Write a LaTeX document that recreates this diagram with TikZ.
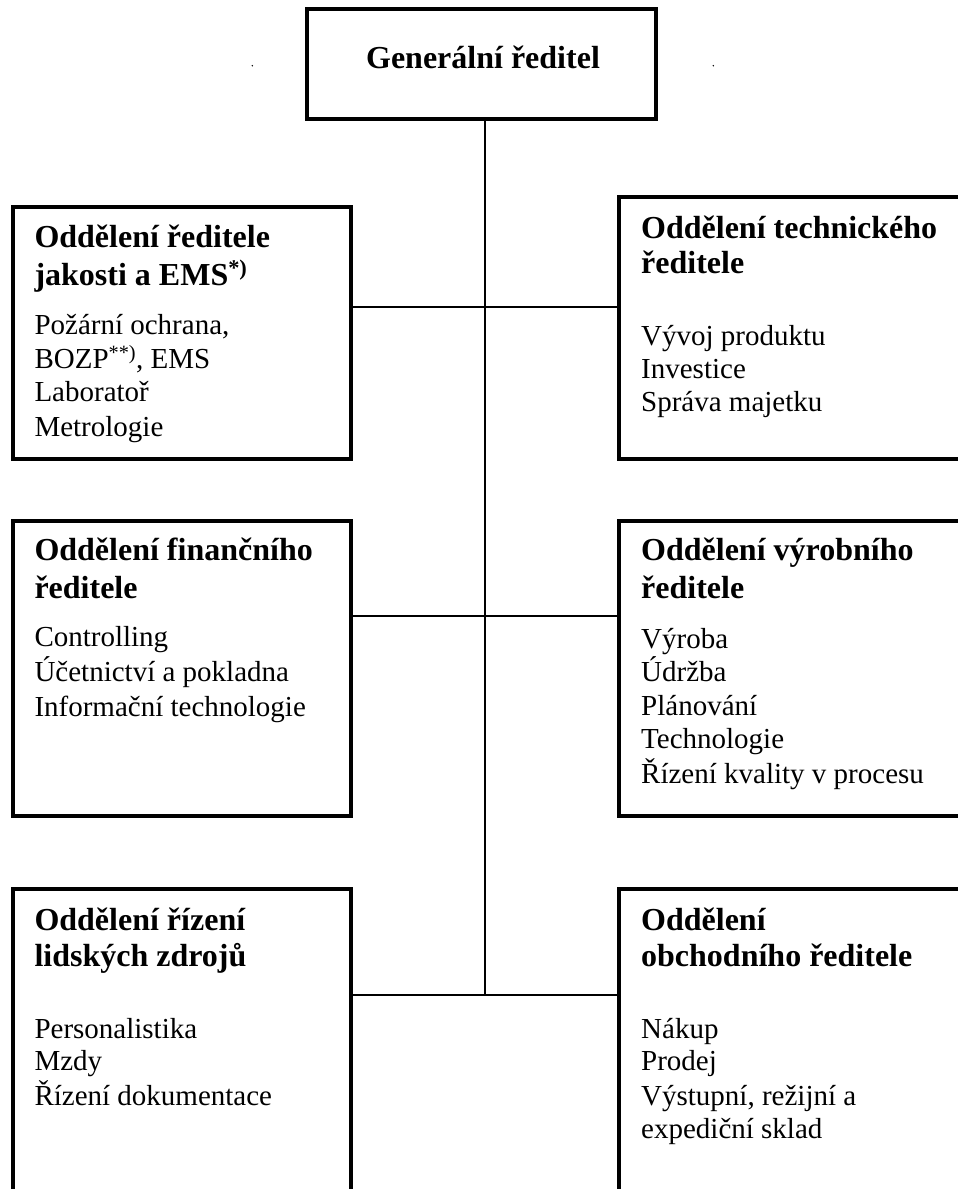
\documentclass[tikz,border=0pt]{standalone}
\usepackage{fontspec}
\setmainfont{Liberation Serif}
\begin{document}
\begin{tikzpicture}[x=1pt,y=-1pt,
  box/.style={draw=black, line width=3.7pt, rectangle, inner sep=0pt, outer sep=0pt, anchor=north west},
  link/.style={draw=black, line width=1.7pt},
  ttl/.style={font=\fontsize{32}{38}\selectfont\bfseries, anchor=base west, inner sep=0pt},
  itm/.style={font=\fontsize{29}{34}\selectfont, anchor=base west, inner sep=0pt},
  dotmark/.style={circle, fill=black, inner sep=0pt, minimum size=1.6pt}]
\useasboundingbox (0,0) rectangle (958,1189);
\clip (0,0) rectangle (958,1189);

% junction coordinates on the spine
\coordinate (j1) at (485,306.7);
\coordinate (j2) at (485,615.7);
\coordinate (j3) at (485,995);

% boxes
\node[box, line width=4pt, minimum width=349pt, minimum height=109.4pt] (G) at (307,9.3) {};
\node[box, minimum width=337.7pt, minimum height=251.4pt] (b1L) at (13,207.3) {};
\node[box, minimum width=381pt, minimum height=261.4pt] (b1R) at (619,197.3) {};
\node[box, minimum width=337.7pt, minimum height=295pt] (b2L) at (13,521) {};
\node[box, minimum width=381pt, minimum height=295.3pt] (b2R) at (619,520.7) {};
\node[box, minimum width=337.7pt, minimum height=360pt] (b3L) at (13,889.3) {};
\node[box, minimum width=381pt, minimum height=360pt] (b3R) at (619,889) {};

% connectors
\draw[link] (G.south -| j1) -- (j3);
\draw[link] (b1L.east |- j1) -- (b1R.west |- j1);
\draw[link] (b2L.east |- j2) -- (b2R.west |- j2);
\draw[link] (b3L.east |- j3) -- (b3R.west |- j3);

% small dots beside the top box
\node[dotmark] (d1) at (252.3,65.7) {};
\node[dotmark] (d2) at (713.3,65.7) {};

% top box text
\node[font=\fontsize{32}{38}\selectfont\bfseries, anchor=base, inner sep=0pt] (tG) at (483,68.3) {Generální ředitel};

% box 1 left
\node[ttl] (t1L1) at (34.3,247.3) {Oddělení ředitele};
\node[ttl] (t1L2) at (34.3,285) {jakosti a EMS\textsuperscript{*)}};
\node[itm] (i1L1) at (34.3,334) {Požární ochrana,};
\node[itm] (i1L2) at (34.3,368.3) {BOZP\textsuperscript{**)}, EMS};
\node[itm] (i1L3) at (34.3,401.7) {Laboratoř};
\node[itm] (i1L4) at (34.3,436) {Metrologie};

% box 1 right
\node[ttl] (t1R1) at (641,238.3) {Oddělení technického};
\node[ttl] (t1R2) at (641,273.3) {ředitele};
\node[itm] (i1R1) at (641,345) {Vývoj produktu};
\node[itm] (i1R2) at (641,378.3) {Investice};
\node[itm] (i1R3) at (641,411.7) {Správa majetku};

% box 2 left
\node[ttl] (t2L1) at (34.3,560.7) {Oddělení finančního};
\node[ttl] (t2L2) at (34.3,598.3) {ředitele};
\node[itm] (i2L1) at (34.3,646.7) {Controlling};
\node[itm] (i2L2) at (34.3,681.7) {Účetnictví a pokladna};
\node[itm] (i2L3) at (34.3,716) {Informační technologie};

% box 2 right
\node[ttl] (t2R1) at (641,560.7) {Oddělení výrobního};
\node[ttl] (t2R2) at (641,598.3) {ředitele};
\node[itm] (i2R1) at (641,648.3) {Výroba};
\node[itm] (i2R2) at (641,681.7) {Údržba};
\node[itm] (i2R3) at (641,715) {Plánování};
\node[itm] (i2R4) at (641,748.3) {Technologie};
\node[itm] (i2R5) at (641,783.3) {Řízení kvality v procesu};

% box 3 left
\node[ttl] (t3L1) at (34.3,930) {Oddělení řízení};
\node[ttl] (t3L2) at (34.3,966.7) {lidských zdrojů};
\node[itm] (i3L1) at (34.3,1038.3) {Personalistika};
\node[itm] (i3L2) at (34.3,1070) {Mzdy};
\node[itm] (i3L3) at (34.3,1105) {Řízení dokumentace};

% box 3 right
\node[ttl] (t3R1) at (641,930) {Oddělení};
\node[ttl] (t3R2) at (641,966.7) {obchodního ředitele};
\node[itm] (i3R1) at (641,1038.3) {Nákup};
\node[itm] (i3R2) at (641,1070) {Prodej};
\node[itm] (i3R3) at (641,1105) {Výstupní, režijní a};
\node[itm] (i3R4) at (641,1138.3) {expediční sklad};
\end{tikzpicture}
\end{document}
